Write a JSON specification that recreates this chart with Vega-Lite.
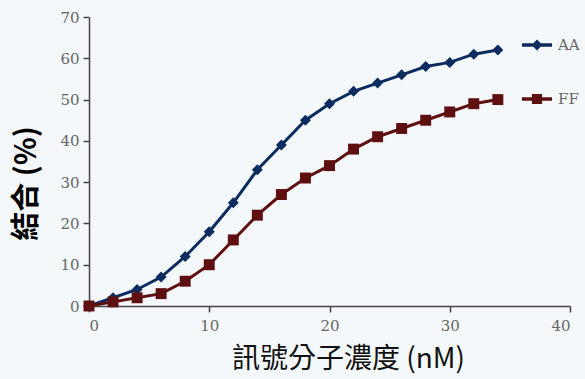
{
  "$schema": "https://vega.github.io/schema/vega-lite/v6.json",
  "width": 481,
  "height": 289,
  "autosize": {"type": "none"},
  "padding": {"left": 89, "top": 17, "right": 15, "bottom": 73},
  "background": "#f4f8fb",
  "config": {"view": {"stroke": null}, "axis": {"grid": false}},
  "data": {"values": [
    {"conc": 0, "binding": 0, "series": "AA"},
    {"conc": 2, "binding": 2, "series": "AA"},
    {"conc": 4, "binding": 4, "series": "AA"},
    {"conc": 6, "binding": 7, "series": "AA"},
    {"conc": 8, "binding": 12, "series": "AA"},
    {"conc": 10, "binding": 18, "series": "AA"},
    {"conc": 12, "binding": 25, "series": "AA"},
    {"conc": 14, "binding": 33, "series": "AA"},
    {"conc": 16, "binding": 39, "series": "AA"},
    {"conc": 18, "binding": 45, "series": "AA"},
    {"conc": 20, "binding": 49, "series": "AA"},
    {"conc": 22, "binding": 52, "series": "AA"},
    {"conc": 24, "binding": 54, "series": "AA"},
    {"conc": 26, "binding": 56, "series": "AA"},
    {"conc": 28, "binding": 58, "series": "AA"},
    {"conc": 30, "binding": 59, "series": "AA"},
    {"conc": 32, "binding": 61, "series": "AA"},
    {"conc": 34, "binding": 62, "series": "AA"},
    {"conc": 0, "binding": 0, "series": "FF"},
    {"conc": 2, "binding": 1, "series": "FF"},
    {"conc": 4, "binding": 2, "series": "FF"},
    {"conc": 6, "binding": 3, "series": "FF"},
    {"conc": 8, "binding": 6, "series": "FF"},
    {"conc": 10, "binding": 10, "series": "FF"},
    {"conc": 12, "binding": 16, "series": "FF"},
    {"conc": 14, "binding": 22, "series": "FF"},
    {"conc": 16, "binding": 27, "series": "FF"},
    {"conc": 18, "binding": 31, "series": "FF"},
    {"conc": 20, "binding": 34, "series": "FF"},
    {"conc": 22, "binding": 38, "series": "FF"},
    {"conc": 24, "binding": 41, "series": "FF"},
    {"conc": 26, "binding": 43, "series": "FF"},
    {"conc": 28, "binding": 45, "series": "FF"},
    {"conc": 30, "binding": 47, "series": "FF"},
    {"conc": 32, "binding": 49, "series": "FF"},
    {"conc": 34, "binding": 50, "series": "FF"}
  ]},
  "encoding": {
    "x": {
      "field": "conc", "type": "quantitative",
      "scale": {"domain": [0, 40], "nice": false, "zero": false},
      "axis": {
        "values": [0, 10, 20, 30, 40],
        "title": "訊號分子濃度 (nM)",
        "titleFont": "Noto Sans CJK TC", "titleFontSize": 28, "titleFontWeight": "normal", "titleColor": "#111",
        "titleX": 259, "titleY": 53, "titleAlign": "center", "titleBaseline": "middle",
        "labelFont": "DejaVu Serif", "labelFontSize": 15, "labelColor": "#666", "labelPadding": 6,
        "tickSize": 6, "tickColor": "#444", "tickWidth": 1.5, "domainColor": "#444", "domainWidth": 1.5
      }
    },
    "y": {
      "field": "binding", "type": "quantitative",
      "scale": {"domain": [0, 70], "nice": false},
      "axis": {
        "values": [0, 10, 20, 30, 40, 50, 60, 70],
        "title": "結合 (%)",
        "titleFont": "Noto Sans CJK TC", "titleFontSize": 29, "titleFontWeight": "bold", "titleColor": "#000",
        "titleAngle": -90, "titleX": -63, "titleY": 166, "titleAlign": "center", "titleBaseline": "middle",
        "labelFont": "DejaVu Serif", "labelFontSize": 15, "labelColor": "#666", "labelPadding": 4,
        "tickSize": 6, "tickColor": "#444", "tickWidth": 1.5, "domainColor": "#444", "domainWidth": 1.5
      }
    }
  },
  "layer": [
    {
      "mark": {"type": "line", "strokeWidth": 3},
      "encoding": {
        "color": {"field": "series", "type": "nominal", "scale": {"domain": ["AA", "FF"], "range": ["#0c2b5e", "#5e0f0f"]}, "legend": null}
      }
    },
    {
      "mark": {"type": "point", "filled": true, "opacity": 1, "size": 120},
      "encoding": {
        "color": {"field": "series", "type": "nominal", "scale": {"domain": ["AA", "FF"], "range": ["#0c2b5e", "#5e0f0f"]}, "legend": null},
        "shape": {"field": "series", "type": "nominal", "scale": {"domain": ["AA", "FF"], "range": ["diamond", "square"]}, "legend": null}
      }
    },
    {
      "mark": {"type": "point", "filled": true, "opacity": 0, "size": 900},
      "encoding": {
        "color": {"field": "series", "type": "nominal", "scale": {"domain": ["AA", "FF"], "range": ["#0c2b5e", "#5e0f0f"]},
          "legend": {"orient": "none", "legendX": 433, "legendY": 13, "title": null, "symbolSize": 900, "symbolStrokeWidth": 0, "symbolOpacity": 1, "rowPadding": 31, "labelFont": "DejaVu Serif", "labelFontSize": 15, "labelColor": "#666", "labelOffset": 6, "padding": 0}},
        "shape": {"field": "series", "type": "nominal", "scale": {"domain": ["AA", "FF"], "range": ["M-1,-0.11H1V0.11H-1Z M0,-0.36L0.36,0L0,0.36L-0.36,0Z", "M-1,-0.11H1V0.11H-1Z M-0.34,-0.34H0.34V0.34H-0.34Z"]},
          "legend": {"orient": "none", "legendX": 433, "legendY": 13, "title": null, "symbolSize": 900, "symbolStrokeWidth": 0, "symbolOpacity": 1, "rowPadding": 31, "labelFont": "DejaVu Serif", "labelFontSize": 15, "labelColor": "#666", "labelOffset": 6, "padding": 0}}
      }
    }
  ],
  "resolve": {"scale": {"color": "independent", "shape": "independent"}}
}
